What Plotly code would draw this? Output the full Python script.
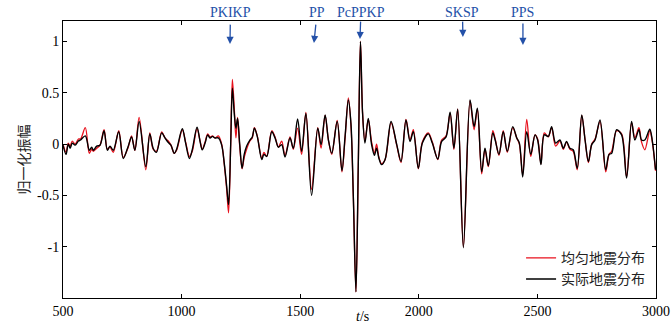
import plotly.graph_objects as go

t = [500, 513, 522, 530, 539, 551, 565, 574, 594, 611, 621, 628, 642, 656, 673, 687, 698, 712, 735, 754,
     775, 789, 803, 821, 849, 866, 880, 894, 916, 930, 944, 955, 969, 979, 1003, 1017, 1033, 1045, 1065, 1078,
     1087, 1099, 1110, 1120, 1130, 1141, 1155, 1169, 1180, 1190, 1198, 1207, 1214, 1222, 1229, 1236, 1245, 1255, 1264, 1274,
     1288, 1298, 1307, 1319, 1338, 1347, 1359, 1380, 1394, 1408, 1422, 1436, 1457, 1471, 1489, 1506, 1524, 1548, 1574, 1588,
     1605, 1619, 1633, 1656, 1676, 1689, 1703, 1714, 1724, 1735, 1745, 1754, 1763, 1773, 1787, 1801, 1813, 1822, 1832, 1843,
     1858, 1883, 1907, 1925, 1946, 1963, 1977, 1998, 2015, 2040, 2057, 2080, 2096, 2115, 2132, 2148, 2164, 2188, 2216, 2233,
     2247, 2265, 2279, 2293, 2312, 2322, 2338, 2356, 2373, 2396, 2413, 2424, 2438, 2455, 2472, 2490, 2501, 2515, 2529, 2546,
     2560, 2577, 2595, 2609, 2623, 2637, 2651, 2668, 2687, 2701, 2715, 2729, 2743, 2764, 2788, 2802, 2813, 2834, 2855, 2876,
     2897, 2911, 2928, 2939, 2953, 2974, 2984, 2998]

actual = [-0.01, -0.10, 0.00, -0.04, 0.01, -0.01, 0.03, 0.04, 0.08, -0.06, -0.03, -0.06, -0.02, -0.01, 0.13, -0.06, -0.02, -0.06, 0.12, -0.14,
          -0.02, 0.07, -0.06, 0.22, -0.22, 0.10, -0.04, -0.08, 0.11, 0.06, 0.015, -0.01, -0.09, -0.05, 0.15, 0.01, -0.14, -0.055, 0.165, 0.025,
          -0.055, 0.01, 0.09, 0.06, 0.075, 0.06, 0.06, -0.01, -0.19, -0.41, -0.59, 0.00, 0.545, 0.30, 0.155, 0.25, 0.00, -0.235, -0.10, -0.02,
          0.04, 0.07, 0.155, 0.075, -0.15, -0.10, -0.12, 0.12, 0.06, -0.03, -0.005, -0.125, 0.06, -0.04, 0.245, -0.07, 0.30, -0.50, 0.155, -0.005,
          0.285, 0.04, -0.09, 0.22, -0.26, 0.07, 0.43, 0.20, -0.51, -1.44, -0.185, 1.00, 0.30, 0.01, 0.25, -0.005, -0.11, -0.04, -0.14, -0.20,
          -0.15, 0.22, -0.005, -0.17, 0.235, 0.025, 0.12, -0.235, 0.01, 0.10, 0.01, -0.145, 0.025, 0.07, 0.31, -0.04, 0.34, -1.01, 0.43, 0.17,
          0.35, -0.27, -0.04, -0.21, 0.11, 0.04, -0.10, 0.12, -0.07, 0.17, 0.06, 0.01, -0.32, 0.12, -0.10, 0.09, 0.04, -0.20, 0.09, 0.075,
          0.17, 0.01, 0.04, -0.04, 0.025, -0.04, -0.055, -0.235, 0.285, 0.04, -0.17, -0.005, 0.04, 0.235, -0.25, -0.10, -0.09, 0.14, 0.09, -0.33,
          0.22, 0.04, 0.14, 0.04, 0.04, 0.145, 0.04, -0.25]

uniform = [0.00, -0.08, 0.01, -0.02, 0.03, 0.00, 0.05, 0.05, 0.16, -0.09, -0.05, -0.07, -0.04, -0.01, 0.14, -0.05, -0.03, -0.08, 0.13, -0.13,
           -0.03, 0.08, -0.06, 0.26, -0.25, 0.11, -0.05, -0.07, 0.12, 0.06, 0.03, -0.01, -0.09, -0.06, 0.14, 0.02, -0.12, -0.07, 0.15, 0.03,
           -0.05, 0.02, 0.10, 0.07, 0.08, 0.06, 0.08, 0.00, -0.20, -0.44, -0.67, 0.00, 0.63, 0.35, 0.06, 0.26, -0.02, -0.24, -0.13, -0.05,
           0.03, 0.06, 0.16, 0.08, -0.14, -0.08, -0.12, 0.13, 0.07, -0.03, 0.03, -0.11, 0.07, -0.05, 0.155, -0.10, 0.31, -0.44, 0.16, -0.04,
           0.28, 0.04, -0.10, 0.23, -0.27, 0.05, 0.45, 0.18, -0.51, -1.44, -0.20, 1.00, 0.30, 0.03, 0.24, 0.02, -0.09, 0.00, -0.13, -0.19,
           -0.15, 0.21, -0.01, -0.18, 0.24, 0.04, 0.14, -0.24, 0.02, 0.11, 0.02, -0.15, 0.04, 0.08, 0.30, -0.05, 0.34, -1.00, 0.42, 0.14,
           0.34, -0.29, -0.05, -0.22, 0.13, 0.05, -0.11, 0.13, -0.08, 0.16, 0.06, 0.00, -0.30, 0.24, -0.12, 0.09, 0.05, -0.19, 0.11, 0.07,
           0.16, -0.02, 0.03, -0.05, 0.02, -0.05, -0.07, -0.25, 0.28, 0.04, -0.18, 0.00, 0.05, 0.22, -0.27, -0.10, -0.07, 0.13, 0.10, -0.32,
           0.21, 0.06, 0.16, 0.02, -0.055, 0.13, 0.03, -0.26]

phases = ["PKIKP", "PP", "PcPPKP", "SKSP", "PPS"]
phase_t = [1204, 1558, 1752, 2186, 2439]
phase_text_t = [1206, 1571, 1756, 2184, 2439]
series_names = ["均匀地震分布", "实际地震分布"]
y_tickvals = [-1, -0.5, 0, 0.5, 1]
y_ticktext = ["-1", "-0.5", "0", "0.5", "1"]
x_tickvals = [500, 1000, 1500, 2000, 2500, 3000]

SERIF = "Liberation Serif"
CJK = "Noto Sans CJK SC"
BLUE = "#2350a8"

fig = go.Figure()
fig.add_trace(go.Scatter(x=t, y=uniform, mode="lines", name=series_names[0],
                         line=dict(color="#e8101c", width=1.3, shape="spline", smoothing=0.9)))
fig.add_trace(go.Scatter(x=t, y=actual, mode="lines", name=series_names[1],
                         line=dict(color="#000000", width=1.4, shape="spline", smoothing=0.9)))

head_px = [44, 43, 39, 37, 45]
standoff = [3, 3, 0, 0, 2]
for name, tx, tt, hp, so in zip(phases, phase_t, phase_text_t, head_px, standoff):
    head_y = (144.3 - hp) / 102.7
    fig.add_annotation(x=tx, y=head_y, xref="x", yref="y", text=name, showarrow=True,
                       ax=(tt - tx) * 0.2372, ay=-(hp - 12.7), axref="pixel", ayref="pixel",
                       arrowhead=2, arrowsize=1.1, arrowwidth=1.3, arrowcolor=BLUE,
                       startstandoff=so,
                       font=dict(family=SERIF, size=14, color=BLUE))

fig.add_annotation(x=-0.069, y=0.5, xref="paper", yref="paper", text="归一化振幅", textangle=-90,
                   xanchor="center", yanchor="middle",
                   showarrow=False, font=dict(family=CJK, size=14, color="#222"))
fig.add_annotation(x=(362 - 63) / 593, y=-0.065, xref="paper", yref="paper",
                   text="<i>t</i>/s", showarrow=False, yanchor="middle", xanchor="center",
                   font=dict(family=SERIF, size=14, color="#000"))

axis_common = dict(showline=True, linecolor="black", linewidth=1, mirror="allticks",
                   ticks="inside", ticklen=4, tickwidth=1, tickcolor="black",
                   showgrid=False, zeroline=False, automargin=False,
                   tickfont=dict(family=SERIF, size=14, color="#000"))
fig.update_xaxes(range=[500, 3000], tickvals=x_tickvals, **axis_common)
fig.update_yaxes(range=[-1.5, 1.2], tickvals=y_tickvals, ticktext=y_ticktext, **axis_common)

fig.update_layout(width=672, height=327, margin=dict(l=63, r=16, t=21, b=29, autoexpand=False),
                  paper_bgcolor="white", plot_bgcolor="white",
                  showlegend=True,
                  legend=dict(x=0.99, y=0.01, xanchor="right", yanchor="bottom",
                              bgcolor="rgba(0,0,0,0)", tracegroupgap=0,
                              font=dict(family=CJK, size=14, color="#222")))
fig.write_html("out.html")
